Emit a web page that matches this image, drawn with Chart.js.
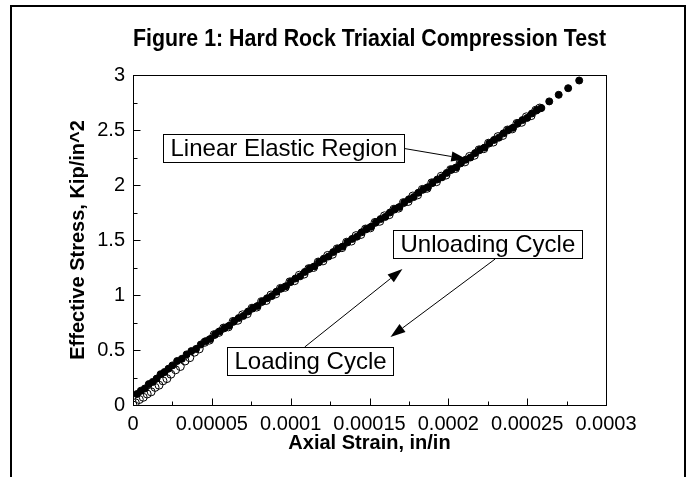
<!DOCTYPE html>
<html>
<head>
<meta charset="utf-8">
<script src="https://cdn.jsdelivr.net/npm/chart.js@4.4.0/dist/chart.umd.min.js"></script>
<style>
  html, body { margin: 0; padding: 0; background: #fff; }
  #wrap { width: 694px; height: 477px; }
</style>
</head>
<body>
<div id="wrap"><canvas id="fig" width="694" height="477"></canvas></div>
<script>
const titleText = 'Figure 1: Hard Rock Triaxial Compression Test';
const xTitle = 'Axial Strain, in/in';
const yTitle = 'Effective Stress, Kip/in^2';

const xTicks = [0, 0.00005, 0.0001, 0.00015, 0.0002, 0.00025, 0.0003];
const xTickLabels = ['0', '0.00005', '0.0001', '0.00015', '0.0002', '0.00025', '0.0003'];
const yTicks = [0, 0.5, 1, 1.5, 2, 2.5, 3];
const yTickLabels = ['0', '0.5', '1', '1.5', '2', '2.5', '3'];

// loading cycle (filled dots), strain in microstrain
const loadingStrain = [
  2.5, 5, 7.5, 10, 12.5, 15, 17.5, 20, 22.5, 25,
  28, 31, 34, 37, 40, 43, 46, 49, 52, 55,
  58, 61, 64, 67, 70, 73, 76, 79, 82, 85,
  88, 91, 94, 97, 100, 103, 106, 109, 112, 115,
  118, 121, 124, 127, 130, 133, 136, 139, 142, 145,
  148, 151, 154, 157, 160, 163, 166, 169, 172, 175,
  178, 181, 184, 187, 190, 193, 196, 199, 202, 205,
  208, 211, 214, 217, 220, 223, 226, 229, 232, 235,
  238, 241, 244, 247, 250, 253, 256, 259,
  264, 270, 276, 283
];
const loadingStress = [
  0.10, 0.13, 0.15, 0.19, 0.21, 0.24, 0.28, 0.30, 0.33, 0.36,
  0.40, 0.42, 0.46, 0.49, 0.51, 0.55, 0.58, 0.60, 0.64, 0.67,
  0.70, 0.72, 0.76, 0.79, 0.81, 0.85, 0.88, 0.90, 0.94, 0.97,
  0.99, 1.03, 1.06, 1.08, 1.12, 1.15, 1.17, 1.21, 1.24, 1.26,
  1.30, 1.33, 1.35, 1.39, 1.42, 1.44, 1.48, 1.51, 1.53, 1.57,
  1.60, 1.62, 1.66, 1.69, 1.71, 1.75, 1.78, 1.80, 1.84, 1.87,
  1.89, 1.93, 1.96, 1.98, 2.02, 2.05, 2.07, 2.11, 2.14, 2.16,
  2.20, 2.23, 2.25, 2.29, 2.32, 2.34, 2.38, 2.41, 2.43, 2.47,
  2.50, 2.52, 2.56, 2.59, 2.61, 2.65, 2.68, 2.70,
  2.76, 2.82, 2.88, 2.95
];

// unloading cycle (open circles), strain in microstrain
const unloadingStrain = [
  0, 1.5, 4, 6.5, 9, 11.5, 14, 16.5, 19, 21.5, 24,
  27, 30, 33, 36, 39, 42,
  45.5, 48.5, 51.5, 54.5, 57.5, 60.5, 63.5, 66.5, 69.5, 72.5,
  75.5, 78.5, 81.5, 84.5, 87.5, 90.5, 93.5, 96.5, 99.5, 102.5,
  105.5, 108.5, 111.5, 114.5, 117.5, 120.5, 123.5, 126.5, 129.5, 132.5,
  135.5, 138.5, 141.5, 144.5, 147.5, 150.5, 153.5, 156.5, 159.5, 162.5,
  165.5, 168.5, 171.5, 174.5, 177.5, 180.5, 183.5, 186.5, 189.5, 192.5,
  195.5, 198.5, 201.5, 204.5, 207.5, 210.5, 213.5, 216.5, 219.5, 222.5,
  225.5, 228.5, 231.5, 234.5, 237.5, 240.5, 243.5, 246.5, 249.5, 252.5,
  255.5, 258
];
const unloadingStress = [
  0.00, 0.02, 0.05, 0.07, 0.10, 0.12, 0.16, 0.18, 0.22, 0.24, 0.28,
  0.32, 0.35, 0.40, 0.43, 0.48, 0.51,
  0.57, 0.59, 0.64, 0.66, 0.70, 0.71, 0.76, 0.77, 0.82, 0.83,
  0.88, 0.89, 0.94, 0.95, 1.00, 1.01, 1.06, 1.07, 1.12, 1.13,
  1.18, 1.19, 1.24, 1.25, 1.30, 1.31, 1.36, 1.37, 1.42, 1.43,
  1.48, 1.49, 1.54, 1.55, 1.60, 1.61, 1.66, 1.67, 1.72, 1.73,
  1.78, 1.79, 1.84, 1.85, 1.90, 1.91, 1.96, 1.97, 2.02, 2.03,
  2.08, 2.09, 2.14, 2.15, 2.20, 2.21, 2.26, 2.27, 2.32, 2.33,
  2.38, 2.39, 2.44, 2.45, 2.50, 2.51, 2.56, 2.57, 2.62, 2.63,
  2.68, 2.70
];

// text boxes, anchored at top-left corner in data units
const notes = [
  { text: 'Linear Elastic Region', x: 0.000019, y: 2.464 },
  { text: 'Unloading Cycle', x: 0.0001652, y: 1.591 },
  { text: 'Loading Cycle', x: 0.0000595, y: 0.527 }
];
const arrows = [
  { from: [0.0001703, 2.336], to: [0.0002114, 2.236] },
  { from: [0.0001089, 0.527], to: [0.0001709, 1.236] },
  { from: [0.0002297, 1.327], to: [0.0001633, 0.618] }
];

const FONT = '"Liberation Sans", Arial, sans-serif';
Chart.defaults.font.family = FONT;
Chart.defaults.color = '#000';

function drawArrow(ctx, x1, y1, x2, y2) {
  const ang = Math.atan2(y2 - y1, x2 - x1);
  const len = 15, half = 5;
  const bx = x2 - len * Math.cos(ang), by = y2 - len * Math.sin(ang);
  ctx.beginPath();
  ctx.moveTo(x1, y1);
  ctx.lineTo(bx, by);
  ctx.stroke();
  ctx.beginPath();
  ctx.moveTo(x2, y2);
  ctx.lineTo(bx + half * Math.sin(ang), by - half * Math.cos(ang));
  ctx.lineTo(bx - half * Math.sin(ang), by + half * Math.cos(ang));
  ctx.closePath();
  ctx.fill();
}

const decor = {
  id: 'decor',
  afterDatasetsDraw(chart) {
    const { ctx, chartArea: a, scales: { x, y } } = chart;
    ctx.save();
    ctx.strokeStyle = '#000';
    ctx.fillStyle = '#000';
    ctx.lineWidth = 1;

    // plot frame
    ctx.strokeRect(Math.round(a.left) + 0.5, Math.round(a.top) + 0.5,
      Math.round(a.right - a.left), Math.round(a.bottom - a.top));

    // inward ticks, major and minor
    const bottom = Math.round(a.bottom) + 0.5, left = Math.round(a.left) + 0.5;
    ctx.beginPath();
    xTicks.forEach((v, i) => {
      const px = Math.round(x.getPixelForValue(v)) + 0.5;
      ctx.moveTo(px, bottom); ctx.lineTo(px, bottom - 7);
      if (i < xTicks.length - 1) {
        const mx = Math.round(x.getPixelForValue((v + xTicks[i + 1]) / 2)) + 0.5;
        ctx.moveTo(mx, bottom); ctx.lineTo(mx, bottom - 4);
      }
    });
    yTicks.forEach((v, i) => {
      const py = Math.round(y.getPixelForValue(v)) + 0.5;
      ctx.moveTo(left, py); ctx.lineTo(left + 7, py);
      if (i < yTicks.length - 1) {
        const my = Math.round(y.getPixelForValue((v + yTicks[i + 1]) / 2)) + 0.5;
        ctx.moveTo(left, my); ctx.lineTo(left + 4, my);
      }
    });
    ctx.stroke();

    // arrows
    arrows.forEach(ar => {
      drawArrow(ctx, x.getPixelForValue(ar.from[0]), y.getPixelForValue(ar.from[1]),
        x.getPixelForValue(ar.to[0]), y.getPixelForValue(ar.to[1]));
    });

    // labelled boxes
    ctx.font = '24px ' + FONT;
    ctx.textBaseline = 'middle';
    ctx.textAlign = 'left';
    notes.forEach(n => {
      const px = Math.round(x.getPixelForValue(n.x)) + 0.5;
      const py = Math.round(y.getPixelForValue(n.y)) + 0.5;
      const w = Math.round(ctx.measureText(n.text).width + 14);
      const h = 28;
      ctx.fillStyle = '#fff';
      ctx.fillRect(px, py, w, h);
      ctx.strokeRect(px, py, w, h);
      ctx.fillStyle = '#000';
      ctx.fillText(n.text, px + 7, py + h / 2 + 1);
    });

    // figure title, narrow bold
    ctx.font = 'bold 24px ' + FONT;
    ctx.textAlign = 'center';
    ctx.textBaseline = 'alphabetic';
    const tw = ctx.measureText(titleText).width;
    ctx.translate((a.left + a.right) / 2, 46);
    ctx.scale(473 / tw, 1);
    ctx.fillText(titleText, 0, 0);
    ctx.restore();

    // outer frame
    ctx.save();
    ctx.lineWidth = 2;
    ctx.strokeStyle = '#000';
    ctx.strokeRect(11, 6, 674, 480);
    ctx.restore();
  }
};

new Chart(document.getElementById('fig'), {
  type: 'scatter',
  data: {
    datasets: [
      {
        label: 'Unloading',
        data: unloadingStrain.map((s, i) => ({ x: s * 1e-6, y: unloadingStress[i] })),
        pointStyle: 'circle',
        pointRadius: 4,
        pointBorderWidth: 1,
        pointBackgroundColor: 'rgba(0,0,0,0)',
        pointBorderColor: '#000',
        showLine: false
      },
      {
        label: 'Loading',
        data: loadingStrain.map((s, i) => ({ x: s * 1e-6, y: loadingStress[i] })),
        pointStyle: 'circle',
        pointRadius: 3.5,
        pointBorderWidth: 1,
        pointBackgroundColor: '#000',
        pointBorderColor: '#000',
        showLine: false
      }
    ]
  },
  options: {
    responsive: false,
    animation: false,
    layout: { padding: { top: 75, right: 88, bottom: 0, left: 0 } },
    plugins: {
      legend: { display: false },
      tooltip: { enabled: false }
    },
    scales: {
      x: {
        type: 'linear',
        min: 0,
        max: 0.0003,
        afterBuildTicks: s => { s.ticks = xTicks.map(v => ({ value: v })); },
        afterFit: s => { s.height = 72; },
        grid: { display: false, drawTicks: false },
        border: { display: false },
        ticks: {
          autoSkip: false,
          maxRotation: 0,
          padding: 7,
          font: { size: 20 },
          color: '#000',
          callback: (v, i) => xTickLabels[i]
        },
        title: {
          display: true,
          text: xTitle,
          color: '#000',
          font: { size: 20, weight: 'bold' },
          padding: { top: 0, bottom: 22 }
        }
      },
      y: {
        type: 'linear',
        min: 0,
        max: 3,
        afterBuildTicks: s => { s.ticks = yTicks.map(v => ({ value: v })); },
        afterFit: s => { s.width = 133; },
        grid: { display: false, drawTicks: false },
        border: { display: false },
        ticks: {
          autoSkip: false,
          padding: 8,
          font: { size: 20 },
          color: '#000',
          callback: (v, i) => yTickLabels[i]
        },
        title: {
          display: true,
          text: yTitle,
          color: '#000',
          font: { size: 20, weight: 'bold' },
          padding: { top: 66, bottom: 0 }
        }
      }
    }
  },
  plugins: [decor]
});
</script>
</body>
</html>
